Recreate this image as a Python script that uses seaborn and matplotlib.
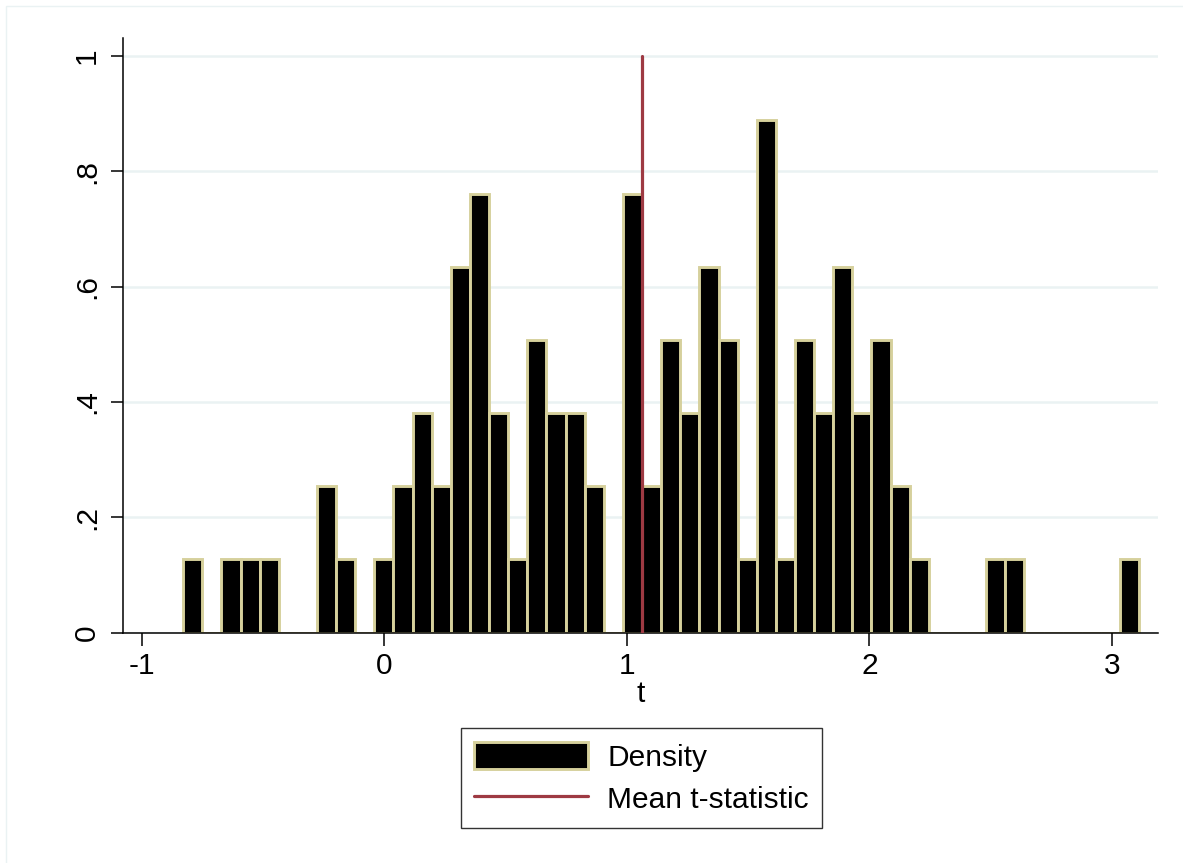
import numpy as np
import pandas as pd
import matplotlib
matplotlib.use("Agg")
import matplotlib.pyplot as plt
import seaborn as sns
from matplotlib.patches import Rectangle, Patch
from matplotlib.lines import Line2D

# counts per bin (50 bins, N = 100)
counts = [1, 0, 1, 1, 1, 0, 0, 2, 1, 0,
          1, 2, 3, 2, 5, 6, 3, 1, 4, 3,
          3, 2, 0, 6, 2, 4, 3, 5, 4, 1,
          7, 1, 4, 3, 5, 3, 4, 2, 1, 0,
          0, 0, 1, 1, 0, 0, 0, 0, 0, 1]
bin_lo = -0.829
bin_hi = 3.112
mean_t = 1.062

x_ticks = [-1, 0, 1, 2, 3]
y_ticks = [0, 0.2, 0.4, 0.6, 0.8, 1.0]
y_labels = ["0", ".2", ".4", ".6", ".8", "1"]

nbins = len(counts)
edges = np.linspace(bin_lo, bin_hi, nbins + 1)
df = pd.DataFrame({"t": (edges[:-1] + edges[1:]) / 2, "n": counts})

sns.set_theme(style="white")
plt.rcParams["font.family"] = ["Liberation Sans", "DejaVu Sans"]
plt.rcParams["text.color"] = "black"
plt.rcParams["axes.labelcolor"] = "black"
plt.rcParams["xtick.color"] = "black"
plt.rcParams["ytick.color"] = "black"

fig = plt.figure(figsize=(11.83, 8.63), dpi=100)
ax = fig.add_axes([0.1042, 0.2669, 0.8747, 0.6891])

bar_fill = "#000000"
bar_edge = "#D6D09C"
mean_col = "#9E3A43"
grid_col = "#EAF2F3"

sns.histplot(data=df, x="t", weights="n", bins=nbins, binrange=(bin_lo, bin_hi),
             stat="density", color=bar_fill, edgecolor=bar_edge, linewidth=2.1,
             alpha=1, ax=ax, zorder=2)
ax.plot([mean_t, mean_t], [0, 1], color=mean_col, lw=2.3, zorder=3)

ax.set_xlim(-1.076, 3.19)
ax.set_ylim(0, 1.031)
ax.set_xticks(x_ticks)
ax.set_xticklabels([str(v) for v in x_ticks])
ax.set_yticks(y_ticks)
ax.set_yticklabels(y_labels, rotation=90, va="center")
ax.tick_params(axis="both", labelsize=21.5, length=9, width=1.1,
               direction="out", left=True, bottom=True)
ax.tick_params(axis="y", pad=7)
ax.tick_params(axis="x", pad=5)

ax.set_axisbelow(True)
ax.yaxis.grid(True, color=grid_col, lw=1.8)
ax.xaxis.grid(False)
for s in ["top", "right"]:
    ax.spines[s].set_visible(False)
for s in ["left", "bottom"]:
    ax.spines[s].set_color("black")
    ax.spines[s].set_linewidth(1.1)

ax.set_xlabel("t", fontsize=21.5, labelpad=0)
ax.set_ylabel("")

handles = [Patch(facecolor=bar_fill, edgecolor=bar_edge, linewidth=2.1),
           Line2D([0], [0], color=mean_col, lw=2.3)]
leg = fig.legend(handles, ["Density", "Mean t-statistic"], loc="center",
                 bbox_to_anchor=(0.5423, 0.0985), fontsize=21.5,
                 frameon=True, fancybox=False, edgecolor="black",
                 handlelength=3.8, handleheight=1.05, handletextpad=0.65,
                 labelspacing=0.42, borderpad=0.45)
leg.get_frame().set_linewidth(1.0)

# faint outer region border as in the original
fig.patches.append(Rectangle((6 / 1183, -0.1), 1.2, 1.1 - 6 / 863,
                             transform=fig.transFigure, fill=False,
                             edgecolor=grid_col, lw=1.0))

fig.savefig("out.png", dpi=100, facecolor="white")
